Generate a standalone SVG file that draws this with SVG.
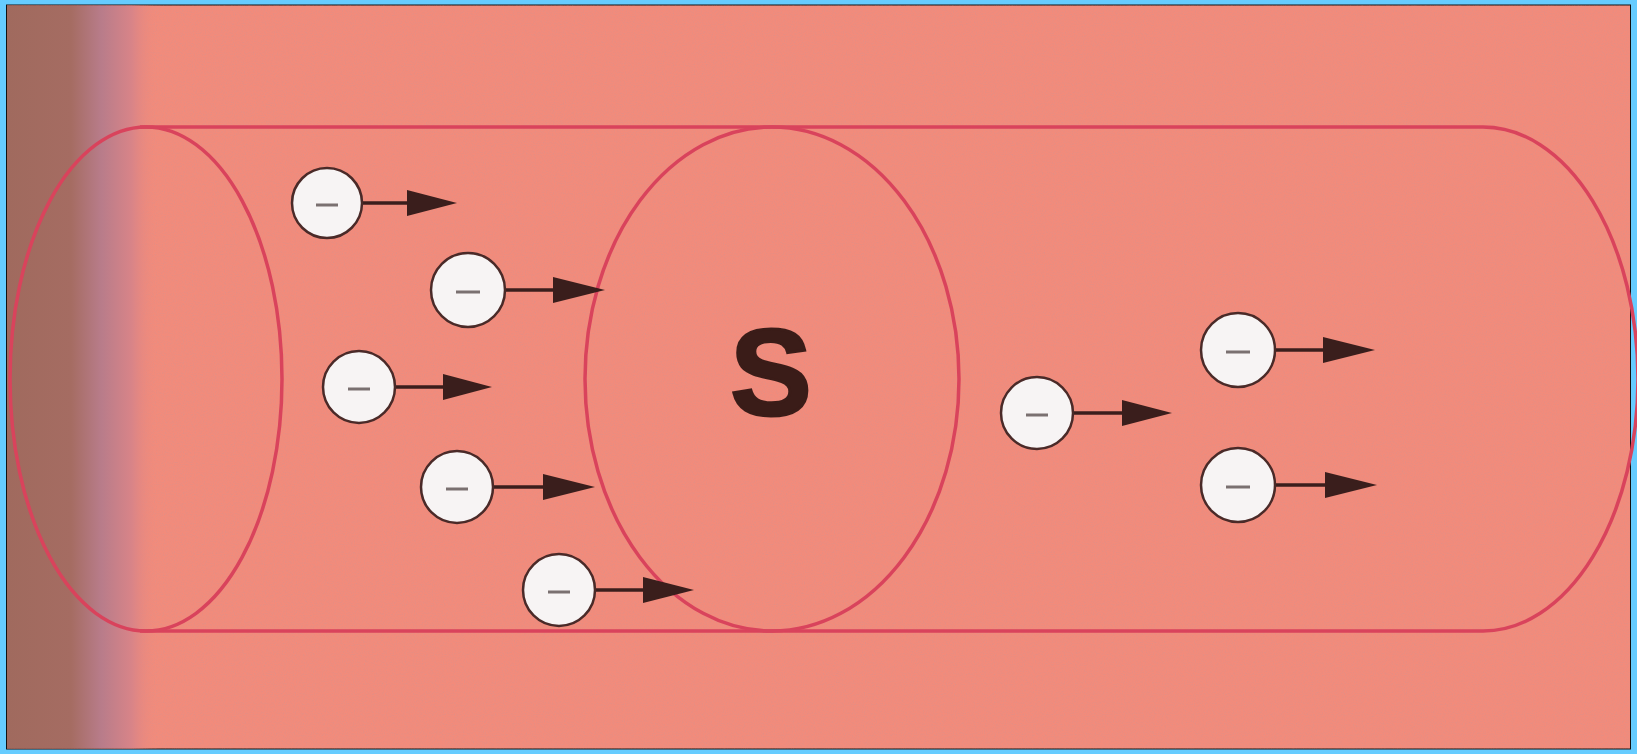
<svg xmlns="http://www.w3.org/2000/svg" width="1637" height="754" viewBox="0 0 1637 754">
<style>
.tube{fill:none;stroke:#D9435C;stroke-width:3.5}
.e circle{fill:#F7F4F4;stroke:#4a2a28;stroke-width:2.5}
.e .minus{stroke:#7a7070;stroke-width:3}
.e .shaft{stroke:#3a1e1c;stroke-width:3.5}
.e polygon{fill:#3a1e1c}
</style>
<defs>
<linearGradient id="lg" x1="0" y1="0" x2="1" y2="0">
<stop offset="0" stop-color="#A06A5E"/>
<stop offset="0.42" stop-color="#A56C62"/>
<stop offset="0.62" stop-color="#B87C8A"/>
<stop offset="0.82" stop-color="#D88488"/>
<stop offset="1" stop-color="#F28B7B" stop-opacity="0"/>
</linearGradient>
<filter id="noise" x="0" y="0" width="1" height="1">
<feTurbulence type="fractalNoise" baseFrequency="0.9" numOctaves="2" seed="3" result="n"/>
<feColorMatrix in="n" type="matrix" values="0 0 0 0 0.6  0 0 0 0 0.3  0 0 0 0 0.3  0 0 0 -2.2 1.25" result="c"/>
<feComposite in="c" in2="SourceGraphic" operator="in"/>
</filter>
</defs>
<rect x="0" y="0" width="1637" height="754" fill="#66CCFF"/>
<rect x="6.5" y="5" width="1624" height="744" fill="#F28B7B" stroke="#111" stroke-width="1"/>
<rect x="7" y="5.5" width="1623" height="743" fill="#F28B7B" filter="url(#noise)" opacity="0.35"/>
<rect x="7" y="5.5" width="152" height="743" fill="url(#lg)"/>
<g id="tube">
<path class="tube" d="M140,127 H1483 A155,252 0 0 1 1483,631 H140"/>
<ellipse class="tube" cx="146" cy="379" rx="136" ry="252"/>
<ellipse class="tube" cx="772" cy="379" rx="187" ry="252"/>
</g>
<g id="label-S"><text x="771" y="415" font-family="Liberation Sans, Arial, sans-serif" font-weight="bold" font-size="122" fill="#3a1c18" stroke="#3a1c18" stroke-width="3" text-anchor="middle">S</text></g>
<g id="connectors">
<g class="e"><line class="shaft" x1="362" y1="203" x2="420" y2="203"/><polygon points="407,190 457,203 407,216"/></g>
<g class="e"><line class="shaft" x1="505" y1="290" x2="565" y2="290"/><polygon points="553,277 605,290 553,303"/></g>
<g class="e"><line class="shaft" x1="395" y1="387" x2="455" y2="387"/><polygon points="443,374 492,387 443,400"/></g>
<g class="e"><line class="shaft" x1="493" y1="487" x2="555" y2="487"/><polygon points="543,474 595,487 543,500"/></g>
<g class="e"><line class="shaft" x1="595" y1="590" x2="655" y2="590"/><polygon points="643,577 694,590 643,603"/></g>
<g class="e"><line class="shaft" x1="1073" y1="413" x2="1135" y2="413"/><polygon points="1122,400 1172,413 1122,426"/></g>
<g class="e"><line class="shaft" x1="1275" y1="350" x2="1335" y2="350"/><polygon points="1323,337 1375,350 1323,363"/></g>
<g class="e"><line class="shaft" x1="1275" y1="485" x2="1335" y2="485"/><polygon points="1325,472 1377,485 1325,498"/></g>
</g>
<g id="e1" class="e"><circle cx="327" cy="203" r="35"/><line class="minus" x1="316" y1="205" x2="338" y2="205"/></g>
<g id="e2" class="e"><circle cx="468" cy="290" r="37"/><line class="minus" x1="456" y1="292" x2="480" y2="292"/></g>
<g id="e3" class="e"><circle cx="359" cy="387" r="36"/><line class="minus" x1="348" y1="389" x2="370" y2="389"/></g>
<g id="e4" class="e"><circle cx="457" cy="487" r="36"/><line class="minus" x1="446" y1="489" x2="468" y2="489"/></g>
<g id="e5" class="e"><circle cx="559" cy="590" r="36"/><line class="minus" x1="548" y1="592" x2="570" y2="592"/></g>
<g id="e6" class="e"><circle cx="1037" cy="413" r="36"/><line class="minus" x1="1026" y1="415" x2="1048" y2="415"/></g>
<g id="e7" class="e"><circle cx="1238" cy="350" r="37"/><line class="minus" x1="1226" y1="352" x2="1250" y2="352"/></g>
<g id="e8" class="e"><circle cx="1238" cy="485" r="37"/><line class="minus" x1="1226" y1="487" x2="1250" y2="487"/></g>
</svg>
